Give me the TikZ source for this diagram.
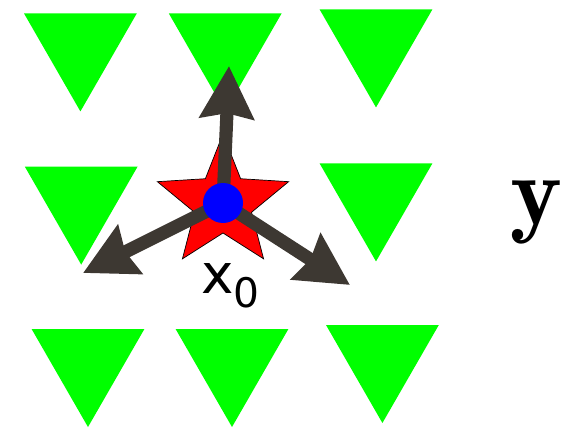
\documentclass[tikz,border=0pt]{standalone}
\usepackage{fontspec}
\usepackage{amsmath}
\usepackage{tikz}
\usetikzlibrary{shapes.geometric, arrows.meta}
\newfontfamily\labelfont{DejaVu Sans}
\definecolor{cGreen}{RGB}{0,255,0}
\definecolor{cArrow}{RGB}{61,56,50}
\definecolor{cStar}{RGB}{255,0,0}
\definecolor{cDot}{RGB}{0,0,255}
\tikzset{
	tri/.style    ={fill=cGreen},
	starmark/.style={star, star points=5, star point ratio=2.3, minimum size=3.45cm, inner sep=0pt, outer sep=0pt, fill=cStar, draw=black, line width=0.5pt},
	dotmark/.style ={circle, minimum size=1cm, inner sep=0pt, fill=cDot},
	vec/.style    ={line width=0.33cm, cArrow, -{Stealth[length=1.3cm, width=1.33cm, inset=0.12cm]}},
}

\begin{document}
\begin{tikzpicture}
	\useasboundingbox (0,0) rectangle (14.475,10.675);
	% grid of triangles (top middle of each)
	\foreach \x/\y in {2.01/10.34, 5.63/10.34, 9.40/10.44, 2.03/6.51, 9.40/6.59, 2.20/2.45, 5.80/2.45, 9.56/2.55}
		\fill[tri] ({\x-1.41},\y) -- ({\x+1.41},\y) -- (\x,{\y-2.45}) -- cycle;
	% start point
	\coordinate (x0) at (5.575,5.6);
	\node[starmark] (star) at (x0) {};
	% directions
	\coordinate (tipUp) at (5.725,9.025);
	\coordinate (tipLeft) at (2.075,3.85);
	\coordinate (tipRight) at (8.75,3.55);
	\draw[vec] (x0) -- (tipUp);
	\draw[vec] (x0) -- (tipLeft);
	\draw[vec] (x0) -- (tipRight);
	\node[dotmark] (dot) at (x0) {};
	% labels
	\node[anchor=base west, inner sep=0pt] (lbl) at (5.02,3.35) {\labelfont\fontsize{39}{40}\selectfont x\raisebox{-10pt}{\fontsize{29}{30}\selectfont 0}};
	\node[anchor=base west, inner sep=0pt] (ylbl) at (12.75,5.075) {\fontsize{70}{70}\selectfont $\mathbf{y}$};
\end{tikzpicture}
\end{document}
